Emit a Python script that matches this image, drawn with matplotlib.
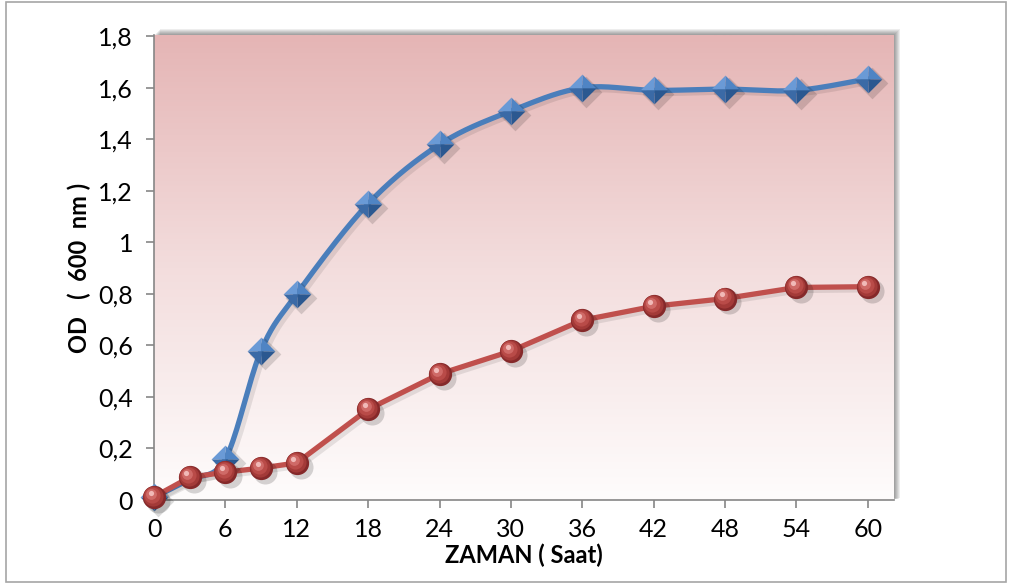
import numpy as np
import matplotlib
matplotlib.use("Agg")
import matplotlib.pyplot as plt
from matplotlib.patches import Rectangle
from matplotlib.path import Path
from matplotlib.colors import LinearSegmentedColormap

# measured optical density over time
saat = [0, 3, 6, 9, 12, 18, 24, 30, 36, 42, 48, 54, 60]
od_mavi = [0.01, 0.08, 0.16, 0.58, 0.80, 1.15, 1.38, 1.51, 1.60, 1.59, 1.595, 1.59, 1.635]
od_kirmizi = [0.012, 0.088, 0.108, 0.124, 0.144, 0.352, 0.489, 0.578, 0.698, 0.752, 0.782, 0.825, 0.828]
x_ticks = [0, 6, 12, 18, 24, 30, 36, 42, 48, 54, 60]
y_ticks = [0, 0.2, 0.4, 0.6, 0.8, 1.0, 1.2, 1.4, 1.6, 1.8]
y_labels = ["0", "0,2", "0,4", "0,6", "0,8", "1", "1,2", "1,4", "1,6", "1,8"]

plt.rcParams['font.family'] = ['Lato', 'DejaVu Sans']

MAVI = "#4a7ebb"
KIRMIZI = "#c0504d"


def smooth(x, y, n=20):
    # bezier curve through the points (like Excel's smoothed line)
    x = np.asarray(x, float)
    y = np.asarray(y, float)
    px = np.concatenate([[x[0]], x, [x[-1]]])
    py = np.concatenate([[y[0]], y, [y[-1]]])
    xs, ys = [], []
    for i in range(1, len(px) - 2):
        p0 = np.array([px[i - 1], py[i - 1]])
        p1 = np.array([px[i], py[i]])
        p2 = np.array([px[i + 1], py[i + 1]])
        p3 = np.array([px[i + 2], py[i + 2]])
        c1 = p1 + (p2 - p0) / 6
        c2 = p2 - (p3 - p1) / 6
        t = np.linspace(0, 1, n)[:, None]
        b = ((1 - t) ** 3) * p1 + 3 * ((1 - t) ** 2) * t * c1 + 3 * (1 - t) * t ** 2 * c2 + t ** 3 * p2
        xs.extend(b[:, 0])
        ys.extend(b[:, 1])
    return np.array(xs), np.array(ys)


# pyramid faces of the diamond marker
faces = [
    (Path([(0, 0), (-1, 0), (0, 1), (0, 0)]), "#6a9ad6"),
    (Path([(0, 0), (0, 1), (1, 0), (0, 0)]), "#4f84c4"),
    (Path([(0, 0), (1, 0), (0, -1), (0, 0)]), "#2b5890"),
    (Path([(0, 0), (0, -1), (-1, 0), (0, 0)]), "#3b6aa6"),
]

fig = plt.figure(figsize=(10.09, 5.86), dpi=100)
ax = fig.add_axes([154 / 1009, 1 - 500 / 586, 740 / 1009, 465 / 586])
ax.set_zorder(3)
ax.patch.set_visible(False)

# outer frame
fig.patches.append(Rectangle((6 / 1009, 1 - 582 / 586), 1000 / 1009, 580 / 586,
                             transform=fig.transFigure, fill=False,
                             edgecolor="#a6a6a6", linewidth=1.2, zorder=0))

# soft shadow behind plot area
for k in range(6):
    off = k + 1
    fig.patches.append(Rectangle(((154 + off) / 1009, 1 - (500 - off * 0.3) / 586),
                                 740 / 1009, (465 + off * 0.7) / 586,
                                 transform=fig.transFigure, facecolor="black",
                                 edgecolor="none", alpha=0.07, zorder=1))

xmax = 62.2
ymax = 1.805
ax.set_xlim(0, xmax)
ax.set_ylim(0, ymax)

# vertical gradient fill
cmap = LinearSegmentedColormap.from_list("bg", ["#fefcfc", "#f3dddd", "#e5b5b5"])
grad = np.linspace(0, 1, 256)[:, None]
ax.imshow(grad, extent=[0, xmax, 0, ymax], origin="lower", aspect="auto",
          cmap=cmap, zorder=0)

# lines with shadow
bx, by = smooth(saat, od_mavi)
ax.plot(bx + 0.3, by - 0.01, color="black", alpha=0.09, linewidth=4.5, zorder=1,
        solid_capstyle="round", clip_on=False)
ax.plot(bx, by, color=MAVI, linewidth=3.8, zorder=2, solid_capstyle="round", clip_on=False)
ax.plot(np.array(saat) + 0.3, np.array(od_kirmizi) - 0.01, color="black", alpha=0.09,
        linewidth=4.5, zorder=3, solid_capstyle="round", clip_on=False)
ax.plot(saat, od_kirmizi, color=KIRMIZI, linewidth=3.8, zorder=4, solid_capstyle="round",
        clip_on=False)

# diamond markers (blue), the one at t=3 sits under the red marker
mx = [s for s in saat if s != 3]
my = [v for s, v in zip(saat, od_mavi) if s != 3]
ax.scatter(np.array(mx) + 0.35, np.array(my) - 0.015, s=260, marker="D", color="black",
           alpha=0.14, linewidths=0, zorder=5, clip_on=False)
for path, col in faces:
    ax.scatter(mx, my, s=400, marker=path, color=col, linewidths=0, zorder=6, clip_on=False)

# sphere markers (red)
rx = np.array(saat, float)
ry = np.array(od_kirmizi, float)
ax.scatter(rx + 0.35, ry - 0.015, s=300, marker="o", color="black",
           alpha=0.16, linewidths=0, zorder=8, clip_on=False)
ax.scatter(rx, ry, s=280, marker="o", color="#85292a", linewidths=0, zorder=9, clip_on=False)
ax.scatter(rx - 0.08, ry + 0.004, s=210, marker="o", color="#a33a38", linewidths=0, zorder=10, clip_on=False)
ax.scatter(rx - 0.15, ry + 0.008, s=135, marker="o", color="#b94b48", linewidths=0, zorder=11, clip_on=False)
ax.scatter(rx - 0.22, ry + 0.012, s=60, marker="o", color="#cf6a67", linewidths=0, zorder=12, clip_on=False)
ax.scatter(rx - 0.28, ry + 0.016, s=14, marker="o", color="#f1b9b7", linewidths=0, zorder=13, clip_on=False)

for s in ["top", "right"]:
    ax.spines[s].set_visible(False)
for s in ["left", "bottom"]:
    ax.spines[s].set_color("#868686")
    ax.spines[s].set_linewidth(1.2)
    ax.spines[s].set_zorder(0.5)

ax.set_xticks(x_ticks)
ax.set_yticks(y_ticks)
ax.set_yticklabels(y_labels)
ax.tick_params(axis="both", direction="out", length=6, width=1.2, color="#868686",
               labelsize=18, labelcolor="black")
ax.tick_params(axis="x", pad=7)
ax.tick_params(axis="y", pad=9)

ax.set_xlabel("ZAMAN ( Saat)", fontsize=17, fontweight="bold", labelpad=2)
ax.set_ylabel("OD   (  600  nm )", fontsize=17, fontweight="bold", labelpad=5)

fig.savefig("out.png", dpi=100)
